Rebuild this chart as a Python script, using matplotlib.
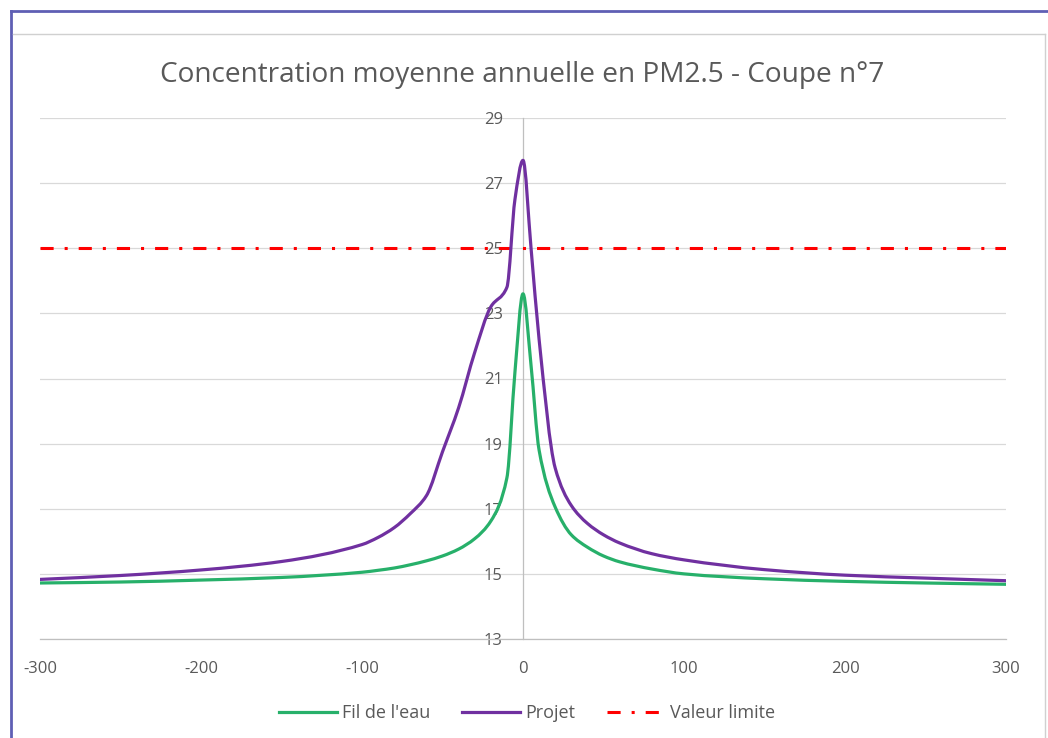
import numpy as np
import matplotlib
matplotlib.use("Agg")
import matplotlib.pyplot as plt
from matplotlib.path import Path
from matplotlib.patches import PathPatch
from matplotlib.lines import Line2D

# Distance to the road axis (m)
distance = [-300, -250, -200, -150, -100, -90, -80, -70, -60, -50, -40, -30, -20, -10, -5,
            0, 5, 10, 20, 30, 40, 50, 60, 80, 100, 150, 200, 250, 300]

# Annual mean PM2.5 concentration (µg/m³)
fil_de_leau = [14.72, 14.75, 14.81, 14.89, 15.05, 15.11, 15.18, 15.28, 15.40, 15.55,
               15.76, 16.08, 16.62, 17.95, 21.2, 23.6, 21.4, 18.8, 17.05, 16.2,
               15.82, 15.55, 15.37, 15.15, 15.0, 14.85, 14.77, 14.72, 14.68]
projet = [14.83, 14.95, 15.12, 15.38, 15.9, 16.12, 16.42, 16.85, 17.4, 18.75,
          20.1, 21.8, 23.2, 23.8, 26.5, 27.7, 25.0, 22.2, 18.25, 17.1,
          16.55, 16.2, 15.95, 15.62, 15.43, 15.13, 14.96, 14.87, 14.79]
valeur_limite = 25

x_ticks = [-300, -200, -100, 0, 100, 200, 300]
y_ticks = [13, 15, 17, 19, 21, 23, 25, 27, 29]

title = "Concentration moyenne annuelle en PM2.5 - Coupe n°7"
labels = ["Fil de l'eau", "Projet", "Valeur limite"]

GREEN = "#27B06A"
PURPLE = "#7030A0"
RED = "#FF0000"
GREY_TEXT = "#595959"

plt.rcParams["font.family"] = ["Open Sans", "DejaVu Sans"]
plt.rcParams["axes.unicode_minus"] = False


def smooth_path(xs, ys):
    """Smoothed line through the points: shape-preserving cubic segments drawn as Bezier curves."""
    x = np.asarray(xs, float)
    y = np.asarray(ys, float)
    h = np.diff(x)
    d = np.diff(y) / h
    m = np.zeros_like(y)
    m[0], m[-1] = d[0], d[-1]
    for k in range(1, len(x) - 1):
        if d[k - 1] * d[k] <= 0:
            m[k] = 0.0
        else:
            w1 = 2 * h[k] + h[k - 1]
            w2 = h[k] + 2 * h[k - 1]
            m[k] = (w1 + w2) / (w1 / d[k - 1] + w2 / d[k])
    verts = [(x[0], y[0])]
    codes = [Path.MOVETO]
    for k in range(len(x) - 1):
        t = h[k] / 3.0
        verts += [(x[k] + t, y[k] + m[k] * t),
                  (x[k + 1] - t, y[k + 1] - m[k + 1] * t),
                  (x[k + 1], y[k + 1])]
        codes += [Path.CURVE4] * 3
    return Path(verts, codes)


fig = plt.figure(figsize=(10.48, 7.38), dpi=100)
ax = fig.add_axes([40 / 1048, 1 - 639 / 738, 966 / 1048, 521 / 738])

ax.set_xlim(-300, 300)
ax.set_ylim(13, 29)
ax.set_xticks(x_ticks)
ax.set_yticks(y_ticks)

ax.grid(axis="y", color="#D9D9D9", linewidth=0.9)
ax.set_axisbelow(True)

for s in ("top", "right"):
    ax.spines[s].set_visible(False)
ax.spines["left"].set_position(("data", 0))
ax.spines["left"].set_color("#BFBFBF")
ax.spines["left"].set_linewidth(0.9)
ax.spines["bottom"].set_color("#BFBFBF")
ax.spines["bottom"].set_linewidth(0.9)

ax.tick_params(axis="y", length=0, pad=14.5, labelsize=12, labelcolor=GREY_TEXT)
ax.tick_params(axis="x", length=0, pad=16, labelsize=12, labelcolor=GREY_TEXT)

dash = (0, (4.3, 3.6, 1.0, 3.6))
ax.axhline(valeur_limite, color=RED, linewidth=2.2, linestyle=dash,
           dash_capstyle="butt", zorder=3)

for ys, col in ((fil_de_leau, GREEN), (projet, PURPLE)):
    patch = PathPatch(smooth_path(distance, ys), facecolor="none", edgecolor=col,
                      linewidth=2.3, capstyle="round", joinstyle="round", zorder=4)
    ax.add_patch(patch)

fig.text(522 / 1048, 1 - 75 / 738, title, ha="center", va="center",
         fontsize=20.2, color=GREY_TEXT)

handles = [
    Line2D([], [], color=GREEN, linewidth=2.3),
    Line2D([], [], color=PURPLE, linewidth=2.3),
    Line2D([], [], color=RED, linewidth=2.2, linestyle=dash, dash_capstyle="butt"),
]
fig.legend(handles, labels, loc="center", bbox_to_anchor=(527 / 1048, 1 - 713 / 738),
           ncol=3, frameon=False, fontsize=13, labelcolor=GREY_TEXT,
           handlelength=3.2, handletextpad=0.28, columnspacing=1.77)

# Outer frame (blue) and inner chart border (grey)
fig.add_artist(Line2D([11 / 1048, 1], [1 - 11 / 738, 1 - 11 / 738],
                      transform=fig.transFigure, color="#5F5FB4", linewidth=2))
fig.add_artist(Line2D([11 / 1048, 11 / 1048], [0, 1 - 11 / 738],
                      transform=fig.transFigure, color="#5F5FB4", linewidth=2))
fig.add_artist(Line2D([13 / 1048, 1045 / 1048], [1 - 34 / 738, 1 - 34 / 738],
                      transform=fig.transFigure, color="#D0D0D0", linewidth=1))
fig.add_artist(Line2D([1045 / 1048, 1045 / 1048], [0, 1 - 34 / 738],
                      transform=fig.transFigure, color="#D0D0D0", linewidth=1))

fig.savefig("out.png", dpi=100)
